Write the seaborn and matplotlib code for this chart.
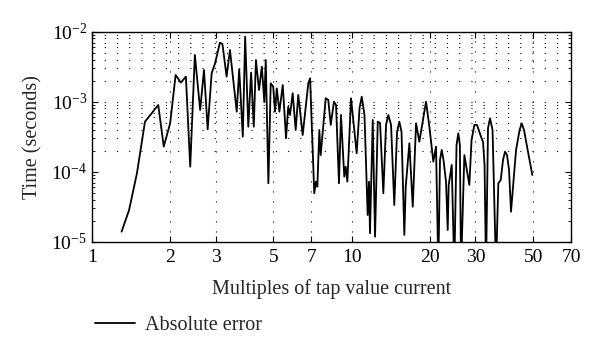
import numpy as np
import pandas as pd
import matplotlib
matplotlib.use("Agg")
import matplotlib.pyplot as plt
import matplotlib.ticker as mticker
import seaborn as sns

# multiples of tap value current (x) and absolute error in seconds (y)
multiples = [1.30, 1.39, 1.49, 1.60, 1.80, 1.89, 2.00, 2.10, 2.20, 2.30,
             2.39, 2.49, 2.61, 2.70, 2.79, 2.89, 2.98, 3.11, 3.18, 3.30,
             3.40, 3.61, 3.69, 3.81, 3.89, 4.00, 4.10, 4.20, 4.28, 4.40,
             4.51, 4.61, 4.67, 4.78, 4.88, 4.99, 5.07, 5.15, 5.27, 5.43,
             5.59, 5.70, 5.79, 5.93, 6.09, 6.23, 6.48, 6.81, 6.92, 7.18,
             7.29, 7.38, 7.51, 7.60, 7.95, 8.13, 8.31, 8.55, 8.71, 8.94,
             9.10, 9.37, 9.49, 9.63, 9.95, 10.46, 10.73, 10.94, 11.21, 11.53,
             11.67, 11.77, 12.06, 12.31, 12.61, 12.87, 13.25, 13.57, 13.85, 14.19,
             14.60, 14.96, 15.27, 15.57, 15.96, 16.16, 16.69, 17.20, 17.71, 18.23,
             19.35, 19.93, 20.64, 21.14, 21.58, 21.90, 22.24, 22.59, 23.10, 23.45,
             23.66, 24.30, 24.86, 25.36, 25.76, 26.12, 26.39, 27.18, 28.41, 28.97,
             29.70, 30.42, 31.51, 32.08, 32.51, 32.94, 33.53, 34.13, 34.90, 35.99,
             36.74, 37.53, 38.30, 38.98, 39.68, 40.40, 41.11, 42.99, 44.36, 45.20,
             46.14, 47.81, 49.67]
abs_error = [1.39e-5, 2.84e-5, 9.5e-5, 5.18e-4, 8.97e-4, 2.28e-4, 4.91e-4, 2.41e-3, 1.87e-3, 2.28e-3,
             1.18e-4, 4.65e-3, 7.6e-4, 2.84e-3, 4.03e-4, 2.55e-3, 3.54e-3, 6.97e-3, 6.67e-3, 2.28e-3,
             5.48e-3, 7.2e-4, 2.9e-3, 3.16e-4, 8.49e-3, 4.39e-4, 2.6e-3, 4.39e-4, 3.94e-3, 1.47e-3,
             3.16e-3, 1.0e-3, 3.94e-3, 6.83e-5, 1.83e-3, 1.64e-3, 7.2e-4, 1.55e-3, 7.2e-4, 1.73e-3,
             3.0e-4, 8.49e-4, 6.46e-4, 1.32e-3, 3.94e-4, 1.25e-3, 3.34e-4, 1.83e-3, 2.16e-3, 4.91e-5,
             7.2e-5, 6.1e-5, 3.94e-4, 1.73e-4, 1.12e-3, 1.06e-3, 4.65e-4, 1.0e-3, 8.97e-4, 6.83e-5,
             6.46e-4, 8.49e-5, 1.18e-4, 7.2e-5, 1.12e-3, 1.83e-4, 8.13e-4, 1.18e-3, 6.46e-4, 2.41e-5,
             7.2e-5, 1.32e-5, 5.48e-4, 1.18e-5, 5.18e-4, 4.97e-4, 4.91e-5, 4.65e-4, 6.46e-4, 4.65e-4,
             3.34e-5, 3.69e-4, 5.18e-4, 3.69e-4, 1.25e-5, 6.1e-5, 2.55e-4, 3.16e-5, 4.91e-4, 2.68e-4,
             1.0e-3, 4.39e-4, 1.39e-4, 2.28e-4, 4e-6, 1.47e-4, 2.04e-4, 1.47e-4, 7.2e-5, 1.47e-5,
             6.46e-5, 1.25e-4, 4e-6, 2.41e-4, 3.54e-4, 2.41e-4, 4e-6, 1.73e-4, 6.46e-5, 2.84e-4,
             4.65e-4, 4.65e-4, 3.16e-4, 2.65e-4, 1.25e-4, 4e-6, 4.21e-4, 5.79e-4, 3.94e-4, 4e-6,
             6.83e-5, 7.6e-5, 1.47e-4, 1.93e-4, 1.73e-4, 1.06e-4, 2.68e-5, 2.04e-4, 3.94e-4, 4.91e-4,
             3.94e-4, 1.91e-4, 8.97e-5]

x_ticks = [1, 2, 3, 5, 7, 10, 20, 30, 50, 70]

sns.set_style("ticks")
plt.rcParams['font.family'] = ['Liberation Serif', 'DejaVu Serif']
plt.rcParams['mathtext.fontset'] = 'stix'

df = pd.DataFrame({'multiple': multiples, 'error': abs_error})

fig = plt.figure(figsize=(6, 3.6), dpi=100)
ax = fig.add_subplot(111)
fig.subplots_adjust(left=0.1533, right=0.9517, top=0.912, bottom=0.3286)

sns.lineplot(data=df, x='multiple', y='error', color='black', linewidth=1.3,
             estimator=None, sort=False, label='Absolute error', ax=ax)

ax.set_xscale('log')
ax.set_yscale('log')
ax.set_xlim(1, 70)
ax.set_ylim(1e-5, 1e-2)

ax.set_xticks(x_ticks)
ax.set_xticklabels([str(t) for t in x_ticks])
ax.xaxis.set_minor_locator(mticker.NullLocator())
ax.yaxis.set_major_locator(mticker.LogLocator(base=10))
ax.yaxis.set_minor_locator(mticker.LogLocator(base=10, subs=np.arange(2, 10)))
ax.yaxis.set_minor_formatter(mticker.NullFormatter())

# dotted grid, like the old matlab export
for t in x_ticks[1:-1]:
    ax.axvline(t, color='black', lw=0.8, ls=(0, (1, 8)), zorder=0)
rows = [k * 10.0 ** e for e in (-4, -3) for k in range(1, 10)]
rows = [r for r in rows if r >= 2e-4]
ax.hlines(rows, 1, 70, colors='black', lw=0.8, linestyles=(0, (1, 10)), zorder=0)

ax.tick_params(which='both', direction='in', top=True, right=True, labelsize=14, colors='black')
ax.tick_params(which='major', length=4)
ax.tick_params(which='minor', length=2)
ax.tick_params(axis='x', pad=5)
for s in ax.spines.values():
    s.set_linewidth(1.0)
    s.set_color('black')

ax.set_xlabel('Multiples of tap value current', fontsize=14.5, labelpad=10)
ax.set_ylabel('Time (seconds)', fontsize=14.5, labelpad=6)

ax.get_legend().remove()
handles, labels = ax.get_legend_handles_labels()
fig.legend(handles, labels, loc='center left', bbox_to_anchor=(0.128, 0.097),
           frameon=False, fontsize=14.5, handlelength=2.0, handletextpad=0.5)

fig.savefig('out.png', dpi=100)
